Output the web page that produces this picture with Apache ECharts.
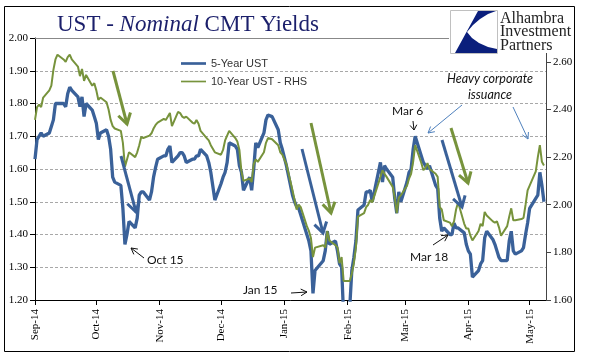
<!DOCTYPE html>
<html><head><meta charset="utf-8">
<script src="https://cdn.jsdelivr.net/npm/echarts@6/dist/echarts.min.js"></script>
<style>html,body{margin:0;padding:0;background:#fff}#c{width:598px;height:361px}</style>
</head><body><div id="c"></div>
<script>
const dates = [
'2014-09-01','2014-09-02','2014-09-03','2014-09-04','2014-09-05',
'2014-09-08','2014-09-09','2014-09-10','2014-09-11','2014-09-12',
'2014-09-15','2014-09-16','2014-09-17','2014-09-18','2014-09-19',
'2014-09-22','2014-09-23','2014-09-24','2014-09-25','2014-09-26',
'2014-09-29','2014-09-30','2014-10-01','2014-10-02','2014-10-03',
'2014-10-06','2014-10-07','2014-10-08','2014-10-09','2014-10-10',
'2014-10-13','2014-10-14','2014-10-15','2014-10-16','2014-10-17',
'2014-10-20','2014-10-21','2014-10-22','2014-10-23','2014-10-24',
'2014-10-27','2014-10-28','2014-10-29','2014-10-30','2014-10-31',
'2014-11-03','2014-11-04','2014-11-05','2014-11-06','2014-11-07',
'2014-11-10','2014-11-11','2014-11-12','2014-11-13','2014-11-14',
'2014-11-17','2014-11-18','2014-11-19','2014-11-20','2014-11-21',
'2014-11-24','2014-11-25','2014-11-26','2014-11-28',
'2014-12-01','2014-12-02','2014-12-03','2014-12-04','2014-12-05',
'2014-12-08','2014-12-09','2014-12-10','2014-12-11','2014-12-12',
'2014-12-15','2014-12-16','2014-12-17','2014-12-18','2014-12-19',
'2014-12-22','2014-12-23','2014-12-24','2014-12-26',
'2014-12-29','2014-12-30','2014-12-31','2015-01-02',
'2015-01-05','2015-01-06','2015-01-07','2015-01-08','2015-01-09',
'2015-01-12','2015-01-13','2015-01-14','2015-01-15','2015-01-16',
'2015-01-20','2015-01-21','2015-01-22','2015-01-23',
'2015-01-26','2015-01-27','2015-01-28','2015-01-29','2015-01-30',
'2015-02-02','2015-02-03','2015-02-04','2015-02-05','2015-02-06',
'2015-02-09','2015-02-10','2015-02-11','2015-02-12','2015-02-13',
'2015-02-17','2015-02-18','2015-02-19','2015-02-20',
'2015-02-23','2015-02-24','2015-02-25','2015-02-26','2015-02-27',
'2015-03-02','2015-03-03','2015-03-04','2015-03-05','2015-03-06',
'2015-03-09','2015-03-10','2015-03-11','2015-03-12','2015-03-13',
'2015-03-16','2015-03-17','2015-03-18','2015-03-19','2015-03-20',
'2015-03-23','2015-03-24','2015-03-25','2015-03-26','2015-03-27',
'2015-03-30','2015-03-31','2015-04-01','2015-04-02','2015-04-03',
'2015-04-06','2015-04-07','2015-04-08','2015-04-09','2015-04-10',
'2015-04-13','2015-04-14','2015-04-15','2015-04-16','2015-04-17',
'2015-04-20','2015-04-21','2015-04-22','2015-04-23','2015-04-24',
'2015-04-27','2015-04-28','2015-04-29','2015-04-30','2015-05-01',
'2015-05-04','2015-05-05','2015-05-06','2015-05-07','2015-05-08'
];
const ust5 = [
1.63,1.69,1.70,1.71,1.70,
1.71,1.73,1.75,1.80,1.80,
1.80,1.79,1.83,1.85,1.84,
1.82,1.79,1.82,1.76,1.80,
1.78,1.76,1.74,1.69,1.71,
1.72,1.70,1.66,1.575,1.56,
1.55,1.48,1.37,1.40,1.44,
1.42,1.45,1.52,1.53,1.53,
1.505,1.53,1.575,1.605,1.63,
1.64,1.64,1.66,1.67,1.62,
1.64,1.65,1.65,1.64,1.62,
1.63,1.63,1.64,1.64,1.66,
1.64,1.62,1.59,1.505,
1.555,1.575,1.59,1.62,1.68,
1.67,1.66,1.61,1.59,1.535,
1.575,1.535,1.60,1.68,1.665,
1.71,1.75,1.765,1.76,
1.72,1.68,1.66,1.61,
1.52,1.50,1.485,1.48,1.46,
1.40,1.38,1.35,1.22,1.29,
1.32,1.35,1.41,1.37,
1.38,1.35,1.31,1.30,1.15,
1.18,1.29,1.33,1.38,1.475,
1.49,1.53,1.53,1.535,1.50,
1.62,1.56,1.61,1.60,
1.575,1.51,1.465,1.53,1.50,
1.56,1.59,1.60,1.66,1.70,
1.64,1.62,1.61,1.60,1.61,
1.55,1.54,1.45,1.41,1.42,
1.40,1.40,1.435,1.42,1.42,
1.405,1.37,1.35,1.34,1.27,
1.29,1.31,1.32,1.39,1.41,
1.385,1.37,1.35,1.33,1.32,
1.32,1.38,1.41,1.35,1.34,
1.35,1.36,1.40,1.435,1.48,
1.51,1.52,1.59,1.55,1.50
];
const ust10 = [
2.356,2.41,2.42,2.41,2.45,
2.48,2.50,2.566,2.61,2.63,
2.61,2.60,2.62,2.63,2.61,
2.58,2.54,2.57,2.52,2.545,
2.50,2.51,2.48,2.44,2.45,
2.43,2.40,2.356,2.33,2.32,
2.31,2.26,2.16,2.19,2.22,
2.20,2.22,2.25,2.285,2.28,
2.29,2.30,2.32,2.335,2.345,
2.36,2.356,2.37,2.385,2.33,
2.39,2.385,2.37,2.365,2.37,
2.345,2.34,2.356,2.34,2.31,
2.28,2.27,2.25,2.22,
2.21,2.23,2.27,2.29,2.31,
2.28,2.265,2.23,2.14,2.10,
2.11,2.095,2.17,2.19,2.18,
2.22,2.26,2.28,2.275,
2.25,2.22,2.21,2.17,
2.06,2.02,1.98,2.00,1.99,
1.91,1.89,1.86,1.78,1.82,
1.83,1.82,1.89,1.85,
1.83,1.82,1.755,1.78,1.68,
1.68,1.71,1.755,1.82,1.95,
1.965,1.99,2.00,2.02,2.01,
2.117,2.145,2.13,2.117,
2.075,2.03,1.965,2.03,2.04,
2.08,2.11,2.13,2.18,2.25,
2.175,2.145,2.155,2.175,2.15,
2.13,2.117,1.99,1.98,1.935,
1.925,1.91,1.93,1.98,2.01,
1.92,1.90,1.90,1.87,1.85,
1.89,1.92,1.91,1.97,1.955,
1.93,1.925,1.93,1.905,1.87,
1.91,1.95,1.985,1.935,1.935,
1.94,1.945,2.00,2.06,2.08,
2.14,2.20,2.25,2.18,2.165
];
const monthTicks = ['2014-09-01','2014-10-01','2014-11-01','2014-12-01','2015-01-01','2015-02-01','2015-03-01','2015-04-01','2015-05-01'];
const axisStart = '2014-09-01', axisEnd = '2015-05-09';
const monthNames = ['Jan','Feb','Mar','Apr','May','Jun','Jul','Aug','Sep','Oct','Nov','Dec'];
const seriesNames = ['5-Year UST','10-Year UST - RHS'];

const BLUE = '#3a6199', GREEN = '#77933c';
const ts = d => +echarts.time.parse(d);
const chart = echarts.init(document.getElementById('c'), null, {renderer:'canvas'});
const tickVals = monthTicks.map(ts);

function arrow(x1,y1,x2,y2,color,w,hl,ha){
  const ang = Math.atan2(y2-y1,x2-x1);
  const a1 = ang+Math.PI-ha, a2 = ang+Math.PI+ha;
  return [
    {type:'line',z:50,shape:{x1,y1,x2,y2},style:{stroke:color,lineWidth:w}},
    {type:'polyline',z:50,shape:{points:[[x2+hl*Math.cos(a1),y2+hl*Math.sin(a1)],[x2,y2],[x2+hl*Math.cos(a2),y2+hl*Math.sin(a2)]]},style:{stroke:color,lineWidth:w,fill:null}}
  ];
}
const T = 0.55;
const annoFont = '12px Lato';
const logoShape = [[478,11],[496,11],[488,14],[480,19],[473,25],[467,32],[472,38],[479,43],[488,47],[497,49],[497,53],[455,53]];
const graphics = [
  {type:'rect',z:0,silent:true,shape:{x:4.5,y:6.5,width:570,height:345},style:{fill:null,stroke:'#000',lineWidth:1}},
  {type:'rect',z:40,shape:{x:449,y:7,width:125,height:46},style:{fill:'#fff'}},
  {type:'rect',z:41,shape:{x:450.5,y:10.5,width:47,height:43},style:{fill:'#fff',stroke:'#c0c0c0',lineWidth:1}},
  {type:'polygon',z:42,shape:{points:logoShape},style:{fill:'#0b1f7c'}},
  {type:'text',z:42,style:{x:500,y:12,text:'Alhambra\nInvestment\nPartners',font:'16px "Liberation Serif"',lineHeight:13.5,fill:'#222'}},
  ...arrow(113,71,127,124,GREEN,3,12,T),
  ...arrow(121,156,136,212,BLUE,3,12,T),
  ...arrow(311,123,331,213,GREEN,3,12,T),
  ...arrow(302,149,323,233,BLUE,3,12,T),
  ...arrow(451,128,468,183,GREEN,3,12,T),
  ...arrow(442,140,462,207,BLUE,3,12,T),
  ...arrow(144,258,131,248,'#111',1,7,0.5),
  ...arrow(291,293,307,292,'#111',1,7,0.5),
  ...arrow(413,121,414,130,'#111',1,6,0.6),
  ...arrow(433,245,448,235,'#111',1,7,0.5),
  ...arrow(462,105,428,133,'#4f81bd',1,7,0.5),
  ...arrow(513,107,528,139,'#4f81bd',1,7,0.5),
  {type:'text',z:50,style:{x:147,y:254,text:'Oct 15',font:annoFont,fill:'#111'}},
  {type:'text',z:50,style:{x:243,y:284,text:'Jan 15',font:annoFont,fill:'#111'}},
  {type:'text',z:50,style:{x:392,y:105,text:'Mar 6',font:annoFont,fill:'#111'}},
  {type:'text',z:50,style:{x:410,y:251,text:'Mar 18',font:annoFont,fill:'#111'}},
  {type:'text',z:50,style:{x:490,y:71,text:'Heavy corporate\nissuance',font:'italic 12.5px Lato',lineHeight:16,align:'center',fill:'#111'}}
];

const serifLabel = {fontFamily:'"Liberation Serif"',fontSize:11,color:'#000'};
chart.setOption({
  animation:false,
  backgroundColor:'#fff',
  title:{
    text:'{a|UST - }{b|Nominal}{a| CMT Yields}',
    left:52, top:7,
    textStyle:{fontWeight:'normal',rich:{
      a:{fontFamily:'"Liberation Serif"',fontWeight:'normal',fontSize:23,color:'#1b1f6b',lineHeight:26},
      b:{fontFamily:'"Liberation Serif"',fontWeight:'normal',fontStyle:'italic',fontSize:23,color:'#1b1f6b',lineHeight:26}
    }}
  },
  legend:{
    orient:'vertical', left:176, top:53, itemWidth:25, itemHeight:13, itemGap:7,
    symbolKeepAspect:true,
    textStyle:{fontFamily:'"Liberation Sans"',fontSize:11,color:'#333'},
    data:[
      {name:seriesNames[0], icon:'path://M0 0H30V3.2H0Z'},
      {name:seriesNames[1], icon:'path://M0 0H30V2H0Z'}
    ]
  },
  grid:{left:35,right:52,top:38,bottom:61},
  xAxis:[{
    type:'value',
    min:ts(axisStart), max:ts(axisEnd),
    axisLine:{lineStyle:{color:'#000',width:1}},
    axisTick:{show:true,inside:false,length:5,customValues:tickVals,lineStyle:{color:'#000'}},
    axisLabel:{rotate:90,margin:9,customValues:tickVals,...serifLabel,
      formatter:v=>{const d=new Date(v);return monthNames[d.getMonth()]+'-'+String(d.getFullYear()).slice(2);}},
    splitLine:{show:false}
  },{
    type:'value', position:'top', min:0, max:1,
    axisLine:{show:true,lineStyle:{color:'#888',width:1}},
    axisTick:{show:false}, axisLabel:{show:false}, splitLine:{show:false}
  }],
  yAxis:[{
    type:'value', min:1.2, max:2.0, interval:0.1,
    axisLine:{show:true,lineStyle:{color:'#000'}},
    axisTick:{show:true,length:5,lineStyle:{color:'#000'}},
    axisLabel:{...serifLabel,margin:7,formatter:v=>v.toFixed(2)},
    splitLine:{show:true,lineStyle:{color:'#a8a8a8',type:[3,2],width:1}}
  },{
    type:'value', position:'right', min:1.6, max:2.7, interval:0.2,
    axisLine:{show:true,lineStyle:{color:'#444'}},
    axisTick:{show:true,length:5,lineStyle:{color:'#444'}},
    axisLabel:{...serifLabel,margin:7,showMaxLabel:false,formatter:v=>v.toFixed(2)},
    splitLine:{show:false}
  }],
  series:[{
    name:seriesNames[0], type:'line', xAxisIndex:0, yAxisIndex:0, symbol:'none', z:3,
    lineStyle:{color:BLUE,width:3.3}, itemStyle:{color:BLUE},
    data:dates.map((d,i)=>[ts(d),ust5[i]])
  },{
    name:seriesNames[1], type:'line', xAxisIndex:0, yAxisIndex:1, symbol:'none', z:4,
    lineStyle:{color:GREEN,width:2}, itemStyle:{color:GREEN},
    data:dates.map((d,i)=>[ts(d),ust10[i]])
  }],
  graphic:{elements:graphics}
});
</script></body></html>
